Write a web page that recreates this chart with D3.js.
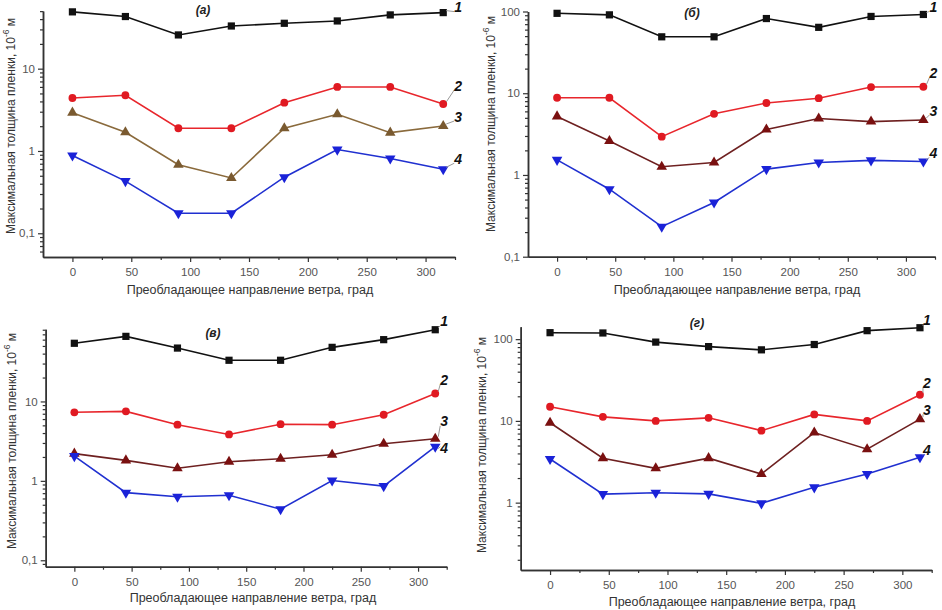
<!DOCTYPE html>
<html>
<head>
<meta charset="utf-8">
<script src="https://cdn.jsdelivr.net/npm/d3@7"></script>
<style>
  body { margin: 0; background: #fff; }
  text { font-family: Arial, "Liberation Sans", sans-serif; }
</style>
</head>
<body>
<div class="chart"></div>
<script>
// wind directions (x values) and x tick labels
var angles = [0, 45, 90, 135, 180, 225, 270, 315];
var xTicks = [0, 50, 100, 150, 200, 250, 300];
var xMinor = [25, 75, 125, 175, 225, 275, 325];

// panel (а)
var a1 = [49, 43, 25.7, 33, 35.6, 38, 45, 48];
var a2 = [4.4, 4.75, 1.89, 1.89, 3.86, 6.0, 6.0, 3.72];
var a3 = [2.92, 1.69, 0.68, 0.47, 1.89, 2.79, 1.67, 2.01];
var a4 = [0.88, 0.43, 0.175, 0.175, 0.48, 1.04, 0.81, 0.6];

// panel (б)
var b1 = [95, 91, 49, 49, 82, 64, 87, 92];
var b2 = [8.8, 8.8, 2.94, 5.6, 7.6, 8.7, 11.9, 12];
var b3 = [5.2, 2.6, 1.26, 1.42, 3.6, 4.9, 4.5, 4.7];
var b4 = [1.53, 0.67, 0.233, 0.46, 1.18, 1.42, 1.51, 1.46];

// panel (в)
var c1 = [54, 66, 47, 33, 33, 48, 60, 80];
var c2 = [7.3, 7.5, 5.1, 3.84, 5.17, 5.1, 6.8, 12.6];
var c3 = [2.2, 1.81, 1.44, 1.74, 1.9, 2.13, 2.93, 3.39];
var c4 = [2.05, 0.71, 0.63, 0.66, 0.44, 1.01, 0.86, 2.69];

// panel (г)
var d1 = [120, 119, 92, 81, 74, 86, 127, 138];
var d2 = [14.9, 11.2, 10, 10.9, 7.6, 12, 10, 20.9];
var d3v = [9.5, 3.5, 2.63, 3.5, 2.24, 7.2, 4.5, 10.5];
var d4 = [3.42, 1.27, 1.32, 1.28, 0.98, 1.54, 2.24, 3.59];

var seriesNames = ["1", "2", "3", "4"];
var panelTitles = ["(а)", "(б)", "(в)", "(г)"];
var yTicksA = [0.1, 1, 10];
var yTicksB = [0.1, 1, 10, 100];
var yTicksC = [0.1, 1, 10];
var yTicksD = [1, 10, 100];
var yLabel = "Максимальная толщина пленки, 10";
var xLabel = "Преобладающее направление ветра, град";

// layout of the four panels
var panels = [
    {series: [a1, a2, a3, a4], yTicks: yTicksA, yDomain: [0.0515, 50.2],
     left: 43, right: 455, top: 11, bottom: 257, c3: "#8a6a3c", m3: "#7a5a30",
     title: [203, 10], yl: [12, 126], xl: [250, 291],
     labDx: 15, labDy: [-4, -17, -8, -9]},
    {series: [b1, b2, b3, b4], yTicks: yTicksB, yDomain: [0.1, 100],
     left: 528, right: 935, top: 11.5, bottom: 256.7, c3: "#6e2020", m3: "#7a1010",
     title: [692, 13], yl: [492, 124], xl: [737, 291],
     labDx: 10, labDy: [-6, -12, -8, -7]},
    {series: [c1, c2, c3, c4], yTicks: yTicksC, yDomain: [0.083, 81],
     left: 45.7, right: 446.7, top: 329.3, bottom: 566.7, c3: "#6e2020", m3: "#7a1010",
     title: [213, 333], yl: [13, 441], xl: [253, 599],
     labDx: 9, labDy: [-7, -12, -16, 3]},
    {series: [d1, d2, d3v, d4], yTicks: yTicksD, yDomain: [0.15, 142],
     left: 520.7, right: 931.7, top: 326.7, bottom: 570, c3: "#6e2020", m3: "#7a1010",
     title: [697, 323], yl: [483, 445], xl: [732, 603],
     labDx: 7, labDy: [-6, -10, -8, -6]}
];

var svg = d3.select(".chart")
    .append("svg")
    .attr("width", 942)
    .attr("height", 610);

var fmt = function(d) { return String(d).replace(".", ","); };

panels.forEach(function(p, pi) {
    var x = d3.scaleLinear().domain([-25, 325]).range([p.left, p.right]);
    var y = d3.scaleLog().domain(p.yDomain).range([p.bottom, p.top]);

    // minor y ticks
    var minors = [];
    [0.01, 0.1, 1, 10, 100].forEach(function(dec) {
        for (var k = 2; k <= 9; k++) {
            var v = k * dec;
            if (v >= p.yDomain[0] && v <= p.yDomain[1]) minors.push(v);
        }
    });

    var g = svg.append("g");

    g.append("g")
        .attr("transform", `translate(${p.left},0)`)
        .call(d3.axisLeft(y).tickValues(minors).tickFormat("").tickSize(3).tickSizeOuter(0));

    g.append("g")
        .attr("class", "yaxis")
        .attr("transform", `translate(${p.left},0)`)
        .call(d3.axisLeft(y).tickValues(p.yTicks).tickFormat(fmt).tickSize(5).tickSizeOuter(0));

    g.append("g")
        .attr("transform", `translate(0,${p.bottom})`)
        .call(d3.axisBottom(x).tickValues(xMinor).tickFormat("").tickSize(3).tickSizeOuter(0));

    g.append("g")
        .attr("class", "xaxis")
        .attr("transform", `translate(0,${p.bottom})`)
        .call(d3.axisBottom(x).tickValues(xTicks).tickSize(5).tickSizeOuter(0));

    g.selectAll(".domain").attr("stroke", "#333").attr("stroke-width", 1.5);
    g.selectAll(".tick line").attr("stroke", "#333").attr("stroke-width", 1.2);
    g.selectAll(".tick text").attr("font-size", 11.5).attr("fill", "#555")
        .attr("font-family", "Arial, 'Liberation Sans', sans-serif");
    g.select(".xaxis").selectAll(".tick text").attr("dy", "0.95em");

    // axis titles
    var yt = g.append("text")
        .attr("transform", `translate(${p.yl[0]},${p.yl[1]}) rotate(-90)`)
        .attr("text-anchor", "middle")
        .attr("dominant-baseline", "middle")
        .attr("font-size", 12)
        .attr("fill", "#333")
        .text(yLabel);
    yt.append("tspan").attr("font-size", 8.5).attr("dy", -5).text("-6");
    yt.append("tspan").attr("dy", 5).text(" м");

    g.append("text")
        .attr("x", p.xl[0]).attr("y", p.xl[1])
        .attr("text-anchor", "middle")
        .attr("dominant-baseline", "middle")
        .attr("font-size", 12.5)
        .attr("fill", "#333")
        .text(xLabel);

    g.append("text")
        .attr("x", p.title[0]).attr("y", p.title[1] + 1)
        .attr("text-anchor", "middle")
        .attr("dominant-baseline", "middle")
        .attr("font-size", 12)
        .attr("font-weight", "bold")
        .attr("font-style", "italic")
        .attr("fill", "#222")
        .text(panelTitles[pi]);

    var lineColors = ["#111", "#e8262c", p.c3, "#2030d0"];
    var markColors = ["#111", "#e01a22", p.m3, "#1a22d8"];
    var shapes = [d3.symbolSquare, d3.symbolCircle, d3.symbolTriangle, d3.symbolTriangle];
    var sizes = [52, 48, 48, 48];

    var line = d3.line()
        .x(function(d, i) { return x(angles[i]); })
        .y(function(d) { return y(d); });

    p.series.forEach(function(vals, si) {
        g.append("path")
            .datum(vals)
            .attr("d", line)
            .attr("fill", "none")
            .attr("stroke", lineColors[si])
            .attr("stroke-width", 1.6);

        g.selectAll(".m" + si)
            .data(vals)
            .enter()
            .append("path")
            .attr("class", "m" + si)
            .attr("d", d3.symbol().type(shapes[si]).size(sizes[si]))
            .attr("transform", function(d, i) {
                return `translate(${x(angles[i])},${y(d)})` + (si === 3 ? " rotate(180)" : "");
            })
            .attr("fill", markColors[si]);

        // series label with a small leader line
        var lx = x(angles[7]), ly = y(vals[7]);
        var tx = lx + p.labDx, ty = ly + p.labDy[si];
        g.append("line")
            .attr("x1", lx + 3).attr("y1", ly + (ty < ly ? -2 : 2))
            .attr("x2", tx - 4).attr("y2", ty + (ty < ly ? 3 : -3))
            .attr("stroke", "#999")
            .attr("stroke-width", 1);
        g.append("text")
            .attr("x", tx).attr("y", ty)
            .attr("text-anchor", "middle")
            .attr("dominant-baseline", "middle")
            .attr("font-size", 14)
            .attr("font-weight", "bold")
            .attr("font-style", "italic")
            .attr("fill", "#111")
            .text(seriesNames[si]);
    });
});
</script>
</body>
</html>
